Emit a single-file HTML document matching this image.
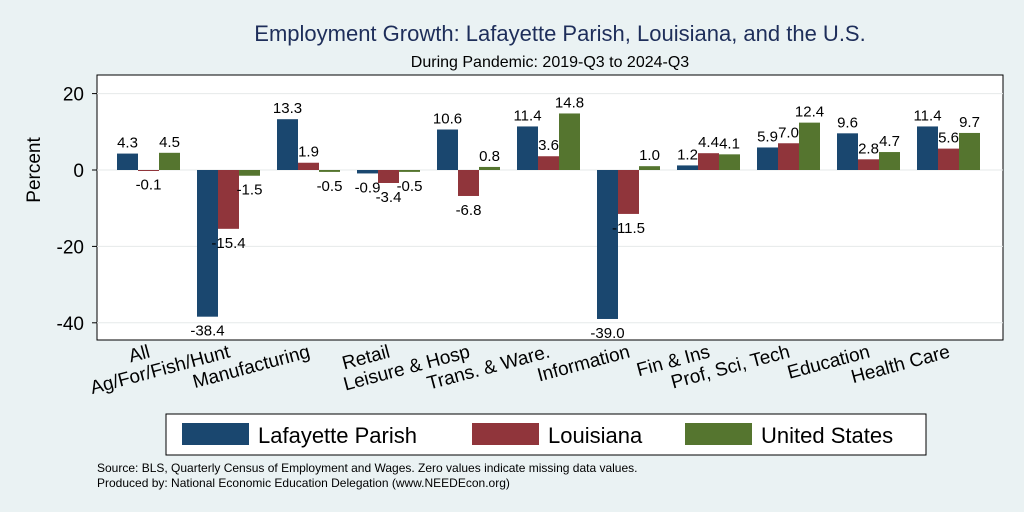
<!DOCTYPE html>
<html><head><meta charset="utf-8"><style>
body{margin:0;background:#eaf2f3;}
svg{display:block;font-family:"Liberation Sans",Arial,sans-serif;}
</style></head><body>
<svg id="c" width="1024" height="512">
<rect x="0" y="0" width="1024" height="512" fill="#eaf2f3"/>
<text x="560" y="41" text-anchor="middle" font-size="22" fill="#1e2e5a">Employment Growth: Lafayette Parish, Louisiana, and the U.S.</text>
<text x="550" y="67" text-anchor="middle" font-size="16" fill="#000">During Pandemic: 2019-Q3 to 2024-Q3</text>
<rect x="97" y="75" width="906" height="265" fill="#fff" stroke="#000" stroke-width="1"/>
<g id="grid"></g><g id="bars"></g><g id="xlab"></g>
<text transform="translate(40,170) rotate(-90)" text-anchor="middle" font-size="19">Percent</text>
<g>
<rect x="166" y="414" width="760" height="41" fill="#fff" stroke="#000"/>
<rect x="182" y="423" width="67" height="22" fill="#1a476f"/>
<text x="258" y="443" font-size="22">Lafayette Parish</text>
<rect x="472" y="423" width="67" height="22" fill="#90353b"/>
<text x="548" y="443" font-size="22">Louisiana</text>
<rect x="685" y="423" width="67" height="22" fill="#55752f"/>
<text x="761" y="443" font-size="22">United States</text>
</g>
<text x="97" y="472" font-size="12">Source: BLS, Quarterly Census of Employment and Wages. Zero values indicate missing data values.</text>
<text x="97" y="487" font-size="12">Produced by: National Economic Education Delegation (www.NEEDEcon.org)</text>
</svg>
<script>
const categories=["All","Ag/For/Fish/Hunt","Manufacturing","Retail","Leisure & Hosp","Trans. & Ware.","Information","Fin & Ins","Prof, Sci, Tech","Education","Health Care"];
const lafayette=[4.3,-38.4,13.3,-0.9,10.6,11.4,-39.0,1.2,5.9,9.6,11.4];
const louisiana=[-0.1,-15.4,1.9,-3.4,-6.8,3.6,-11.5,4.4,7.0,2.8,5.6];
const unitedStates=[4.5,-1.5,-0.5,-0.5,0.8,14.8,1.0,4.1,12.4,4.7,9.7];
const yTicks=[20,0,-20,-40];
const NS="http://www.w3.org/2000/svg";
const y=v=>170-v*3.82;
const gx=i=>117+i*80;
const bw=21;
function mk(t,a,p){const e=document.createElementNS(NS,t);for(const k in a)e.setAttribute(k,a[k]);p.appendChild(e);return e;}
const grid=document.getElementById('grid');
yTicks.forEach(t=>{
 const l=mk('line',{x1:97,x2:1003,y1:y(t),y2:y(t),stroke:'#e6eaea','stroke-width':1},grid);
 
 
 const tk=mk('line',{x1:92,x2:97,y1:y(t),y2:y(t),stroke:'#000'},grid);
 
 
 const tx=mk('text',{x:84,y:y(t)+7,'text-anchor':'end','font-size':19},grid);
 tx.textContent=t;
 
 
});
const bars=document.getElementById('bars');
const series=[[lafayette,'#1a476f'],[louisiana,'#90353b'],[unitedStates,'#55752f']];
categories.forEach((c,i)=>{
 series.forEach(([arr,col],s)=>{
  const v=arr[i];const x=gx(i)+s*bw;
  const r=mk('rect',{x:x,y:Math.min(y(v),y(0)),width:bw,height:Math.max(Math.abs(y(v)-y(0)),1),fill:col},bars);
  
  
  const ty=v>=0?y(v)-6:y(v)+19;
  const t=mk('text',{x:x+bw/2,y:ty,'text-anchor':'middle','font-size':15},bars);
  t.textContent=v.toFixed(1);
  
  
 });
 const xl=document.getElementById('xlab');
 const lx=gx(i)+34, ly=357;
 const t=mk('text',{x:lx,y:ly,'text-anchor':'end','font-size':19,transform:`rotate(-15 ${lx} ${ly})`},xl);
 t.textContent=c;
 
 
});
</script>
</body></html>
